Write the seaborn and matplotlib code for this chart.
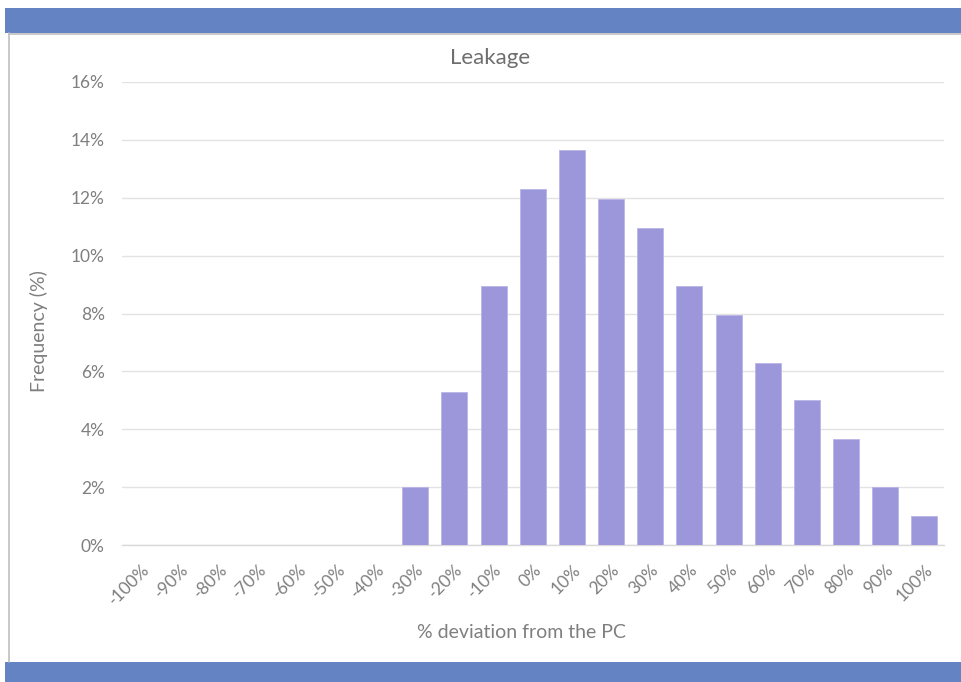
import matplotlib
matplotlib.use("Agg")
import matplotlib.pyplot as plt
import seaborn as sns
import pandas as pd
from matplotlib.patches import Rectangle
from matplotlib.lines import Line2D

categories = ["-100%", "-90%", "-80%", "-70%", "-60%", "-50%", "-40%", "-30%", "-20%", "-10%",
              "0%", "10%", "20%", "30%", "40%", "50%", "60%", "70%", "80%", "90%", "100%"]
frequency = [0, 0, 0, 0, 0, 0, 0, 2.0, 5.3, 8.95, 12.3, 13.65, 11.95, 10.95, 8.95, 7.95, 6.3, 5.0, 3.65, 2.0, 1.0]
y_ticks = [0, 2, 4, 6, 8, 10, 12, 14, 16]

sns.set_theme(style="white")
plt.rcParams['font.family'] = ['Lato', 'DejaVu Sans']

W, H = 961, 682
fig = plt.figure(figsize=(W / 100, H / 100), dpi=100)

# header / footer bands
fig.patches.append(Rectangle((5 / W, 1 - 33 / H), 1 - 5 / W, 25 / H, transform=fig.transFigure,
                             facecolor="#6383C2", edgecolor="none", zorder=0))
fig.patches.append(Rectangle((5 / W, 0), 1 - 5 / W, 20 / H, transform=fig.transFigure,
                             facecolor="#6383C2", edgecolor="none", zorder=0))
fig.lines.append(Line2D([9 / W, 9 / W], [20 / H, 1 - 33 / H], transform=fig.transFigure,
                        color="#BFBFBF", linewidth=1.2))
fig.lines.append(Line2D([9 / W, 1], [1 - 34 / H, 1 - 34 / H], transform=fig.transFigure,
                        color="#BFBFBF", linewidth=1.2))

ax = fig.add_axes([121.5 / W, 1 - 545 / H, (944 - 121.5) / W, (545 - 82) / H])
df = pd.DataFrame({"cat": categories, "freq": frequency})
sns.barplot(data=df, x="cat", y="freq", order=categories, color="#9C96DB", saturation=1,
            width=0.66, ax=ax, edgecolor="#B9B5E8", linewidth=0.6, zorder=3)

ax.set_ylim(0, 16)
ax.set_xlim(-0.5, len(categories) - 0.5)
ax.set_yticks(y_ticks)
ax.set_yticklabels([f"{t}%" for t in y_ticks], color="#7F7F7F", fontsize=12.5)
ax.set_xticks(range(len(categories)))
ax.set_xticklabels(categories, rotation=45, ha="right", rotation_mode="anchor",
                   color="#7F7F7F", fontsize=12.5)
ax.tick_params(axis="y", length=0, pad=12)
ax.tick_params(axis="x", length=0, pad=12)
ax.yaxis.grid(True, color="#E3E3E3", linewidth=1, zorder=0)
ax.set_axisbelow(True)
for s in ["top", "right", "left"]:
    ax.spines[s].set_visible(False)
ax.spines["bottom"].set_color("#D9D9D9")
ax.spines["bottom"].set_linewidth(1)

ax.set_xlabel("")
ax.set_ylabel("")
fig.text(39 / W, 1 - 331 / H, "Frequency (%)", rotation=90, ha="center", va="center",
         color="#7F7F7F", fontsize=14)
fig.text(521 / W, 1 - 633 / H, "% deviation from the PC", ha="center", va="center",
         color="#7F7F7F", fontsize=14)
fig.text(490 / W, 1 - 58 / H, "Leakage", ha="center", va="center", color="#6E6E6E", fontsize=16)

fig.savefig("out.png", dpi=100, facecolor="white")
